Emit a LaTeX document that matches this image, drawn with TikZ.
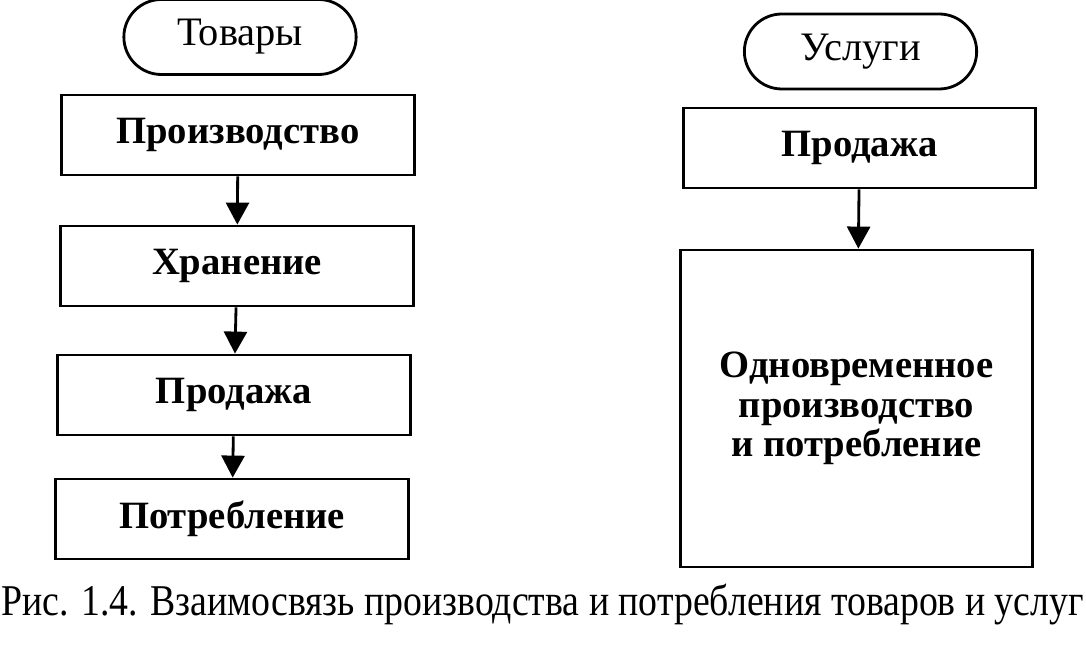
\documentclass[tikz,border=0pt]{standalone}
\usepackage{fontspec}
\setmainfont{Liberation Serif}
\usetikzlibrary{arrows.meta,shapes.misc}
\tikzset{
  blok/.style={draw,line width=1.6pt,minimum width=7.05cm,minimum height=1.6cm,
    font=\fontsize{22}{22.5}\selectfont\bfseries,align=center},
  pill/.style={draw,line width=1.6pt,rounded rectangle,minimum width=4.88cm,
    minimum height=1.5cm,font=\fontsize{23}{26}\selectfont},
  strelka/.style={line width=1.6pt,-{Triangle[length=0.44cm,width=0.46cm]}}
}
\begin{document}
\begin{tikzpicture}
\useasboundingbox (0,0) rectangle (21.72,-13);
% tovary
\node[pill] (tov) at (4.8,-0.74) {Товары};
\node[blok] (proizv) at (4.76,-2.7) {Производство};
\node[blok] (hran) at (4.74,-5.32) {Хранение};
\node[blok] (prod) at (4.68,-7.9) {Продажа};
\node[blok] (potr) at (4.64,-10.38) {Потребление};
\draw[strelka] (proizv) -- (hran);
\draw[strelka] (hran) -- (prod);
\draw[strelka] (prod) -- (potr);
% uslugi
\node[pill] (usl) at (17.21,-1.03) {Услуги};
\node[blok] (prod2) at (17.19,-2.96) {Продажа};
\node[blok,minimum height=6.34cm] (odnovr) at (17.13,-8.17)
  {Одновременное\\производство\\и потребление};
\draw[strelka] (prod2) -- (odnovr);
% podpis
\node[font=\fontsize{25}{28}\selectfont,inner sep=0pt] (podp) at (10.85,-12.1)
  {\scalebox{0.86}[1]{Рис. 1.4. Взаимосвязь производства и потребления товаров и услуг}};
\end{tikzpicture}
\end{document}
